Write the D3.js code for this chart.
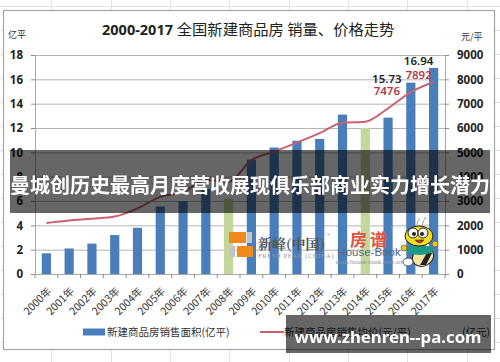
<!DOCTYPE html>
<html>

<head>
    <meta charset="utf-8">
    <title>2000-2017 全国新建商品房 销量、价格走势</title>
    <script src="https://d3js.org/d3.v7.min.js"></script>
    <style>
        html, body { margin: 0; padding: 0; background: #fff; overflow: hidden; }
        svg { display: block; filter: blur(0.35px); }
        text { font-family: "Noto Sans CJK SC", "Noto Sans", sans-serif; }
        .axis path { stroke: #a8a8a8; }
        .axis line { stroke: #8c8c8c; }
        .axis text { font-family: "Noto Sans", sans-serif; font-weight: 700; font-size: 11.5px; fill: #222; }
    </style>
</head>

<body>
    <div id="chart"></div>
    <script>
        // values
        var years = ["2000年", "2001年", "2002年", "2003年", "2004年", "2005年", "2006年", "2007年", "2008年",
            "2009年", "2010年", "2011年", "2012年", "2013年", "2014年", "2015年", "2016年", "2017年"];
        var area = [1.7, 2.1, 2.5, 3.2, 3.8, 5.55, 6.0, 7.0, 6.2, 9.4, 10.4, 10.95, 11.1, 13.1, 12.0, 12.85, 15.73, 16.94];
        var price = [2100, 2200, 2270, 2360, 2700, 3170, 3370, 3860, 3800, 4680, 5030, 5400, 5790, 6220, 6260, 6810, 7476, 7892];
        var paleYears = ["2008年", "2014年"];
        var leftTicks = [0, 2, 4, 6, 8, 10, 12, 14, 16, 18];
        var rightTicks = [0, 1000, 2000, 3000, 4000, 5000, 6000, 7000, 8000, 9000];
        var headline = "曼城创历史最高月度营收展现俱乐部商业实力增长潜力";
        var siteName = "www.zhenren--pa.com";

        var width = 500, height = 362;
        var margin = { top: 55, right: 55, bottom: 88, left: 35 };

        var svg = d3.select("#chart").append("svg")
            .attr("width", width)
            .attr("height", height);

        // faint spreadsheet cells behind the chart
        var sheet = svg.append("g").attr("stroke", "#e2e2e2");
        d3.range(6, 362, 24).forEach(function (y) {
            sheet.append("line").attr("x1", 0).attr("x2", width).attr("y1", y + 0.5).attr("y2", y + 0.5);
        });
        [51, 111, 170, 229, 289, 348, 407, 467].forEach(function (x) {
            sheet.append("line").attr("x1", x + 0.5).attr("x2", x + 0.5).attr("y1", 0).attr("y2", height);
        });

        svg.append("rect")
            .attr("x", 3.5).attr("y", 10.5)
            .attr("width", 491).attr("height", 339)
            .attr("fill", "#fff")
            .attr("stroke", "#a6a6a6")
            .attr("stroke-width", 1.2);

        var x = d3.scaleBand()
            .domain(years)
            .range([margin.left, width - margin.right]);
        var yArea = d3.scaleLinear()
            .domain([0, 18])
            .range([height - margin.bottom, margin.top]);
        var yPrice = d3.scaleLinear()
            .domain([0, 9000])
            .range([height - margin.bottom, margin.top]);

        // Grid lines
        svg.append("g").selectAll("line")
            .data(leftTicks.slice(1))
            .enter().append("line")
            .attr("x1", margin.left)
            .attr("x2", width - margin.right)
            .attr("y1", function (d) { return yArea(d) + 0.5; })
            .attr("y2", function (d) { return yArea(d) + 0.5; })
            .attr("stroke", "#b4b4b4");

        // Bars
        svg.append("g").selectAll("rect")
            .data(years)
            .enter().append("rect")
            .attr("x", function (d) { return x(d) + x.bandwidth() / 2 - 4.6; })
            .attr("width", 9.2)
            .attr("y", function (d, i) { return yArea(area[i]); })
            .attr("height", function (d, i) { return yArea(0) - yArea(area[i]); })
            .attr("fill", function (d) { return paleYears.indexOf(d) >= 0 ? "#c3d69b" : "#4a7ebb"; });

        // Axes
        svg.append("g").attr("class", "axis")
            .attr("transform", "translate(" + margin.left + ",0)")
            .call(d3.axisLeft(yArea).tickValues(leftTicks).tickSize(4).tickPadding(8));
        svg.append("g").attr("class", "axis")
            .attr("transform", "translate(" + (width - margin.right) + ",0)")
            .call(d3.axisRight(yPrice).tickValues(rightTicks).tickFormat(d3.format("d")).tickSize(4).tickPadding(8));

        var bottomAxis = svg.append("g").attr("class", "axis")
            .attr("transform", "translate(0," + yArea(0) + ")")
            .call(d3.axisBottom(x).tickSize(0));
        bottomAxis.selectAll("text")
            .attr("transform", "translate(1,13) rotate(-45)")
            .attr("dy", "0.35em")
            .style("text-anchor", "end")
            .style("font-weight", 400)
            .style("font-size", "10.5px")
            .style("font-family", "'Noto Sans CJK SC', sans-serif")
            .style("fill", "#333");
        // ticks sit between the categories
        bottomAxis.selectAll("line.edge")
            .data(years.concat(["end"]))
            .enter().append("line")
            .attr("class", "edge")
            .attr("x1", function (d, i) { return margin.left + i * x.step(); })
            .attr("x2", function (d, i) { return margin.left + i * x.step(); })
            .attr("y2", 4);

        // Price line
        var line = d3.line()
            .x(function (d, i) { return x(years[i]) + x.bandwidth() / 2; })
            .y(function (d) { return yPrice(d); })
            .curve(d3.curveMonotoneX);
        svg.append("path")
            .attr("d", line(price))
            .attr("fill", "none")
            .attr("stroke", "#c8626f")
            .attr("stroke-width", 2);

        // Value labels on the last two years
        function valueLabel(year, text, dx, yPos, colour) {
            svg.append("text")
                .attr("x", x(year) + x.bandwidth() / 2 + dx)
                .attr("y", yPos)
                .attr("text-anchor", "middle")
                .style("font-family", "'Noto Sans', sans-serif")
                .style("font-weight", 600)
                .style("font-size", "11.5px")
                .style("fill", colour)
                .text(text);
        }
        var n = years.length;
        valueLabel(years[n - 2], area[n - 2], -24, yArea(area[n - 2]), "#222");
        valueLabel(years[n - 2], price[n - 2], -24, yArea(area[n - 2]) + 12, "#b03a48");
        valueLabel(years[n - 1], area[n - 1], -15, yArea(area[n - 1]) - 3, "#222");
        valueLabel(years[n - 1], price[n - 1], -15, yArea(area[n - 1]) + 11, "#b03a48");

        // Title and units
        var title = svg.append("text")
            .attr("x", 102).attr("y", 35)
            .style("fill", "#222");
        title.append("tspan")
            .style("font-family", "'Noto Sans', sans-serif")
            .style("font-weight", 700)
            .style("font-size", "14.5px")
            .text("2000-2017 ");
        title.append("tspan")
            .style("font-size", "15.3px")
            .text("全国新建商品房 销量、价格走势");

        svg.append("text").attr("x", 8).attr("y", 38)
            .style("font-size", "9px").style("fill", "#333").text("亿平");
        svg.append("text").attr("x", 461).attr("y", 40)
            .style("font-size", "9px").style("fill", "#333").text("元/平");

        // Legend
        svg.append("rect").attr("x", 83).attr("y", 328.5).attr("width", 22).attr("height", 7).attr("fill", "#4a7ebb");
        svg.append("text").attr("x", 107).attr("y", 336)
            .style("font-size", "10.5px").style("fill", "#333").text("新建商品房销售面积(亿平)");
        svg.append("line").attr("x1", 260).attr("x2", 284).attr("y1", 332).attr("y2", 332)
            .attr("stroke", "#c8626f").attr("stroke-width", 2);
        svg.append("text").attr("x", 284).attr("y", 336)
            .style("font-size", "10.5px").style("fill", "#333").text("新建商品房销售均价(元/平)");
        svg.append("text").attr("x", 490).attr("y", 336).attr("text-anchor", "end")
            .style("font-size", "10.5px").style("fill", "#333").text("(亿元)");

        // Fresh Peak logo
        var logo = svg.append("g");
        logo.append("rect").attr("x", 229).attr("y", 232).attr("width", 17).attr("height", 11).attr("fill", "#f08a1d");
        logo.append("rect").attr("x", 247).attr("y", 232).attr("width", 5).attr("height", 11).attr("fill", "#c4c4c4");
        logo.append("rect").attr("x", 229).attr("y", 246).attr("width", 6).attr("height", 11).attr("fill", "#c4c4c4");
        logo.append("rect").attr("x", 237).attr("y", 246).attr("width", 16).attr("height", 11).attr("fill", "#f08a1d");
        logo.append("text").attr("x", 258).attr("y", 249)
            .style("font-family", "'Noto Serif CJK SC', 'Noto Sans CJK SC', serif")
            .style("font-size", "14px").style("font-weight", 700).style("fill", "#555").text("新峰(中国)");
        logo.append("text").attr("x", 258).attr("y", 258)
            .style("font-family", "'Liberation Serif', serif")
            .style("font-size", "6.5px").style("letter-spacing", "0.6px").style("fill", "#999").text("FRESH PEAK (CHINA)");
        logo.append("text").attr("x", 327).attr("y", 238)
            .style("font-size", "6px").style("fill", "#aaa").text("®");

        // House-Book logo
        logo.append("text").attr("x", 370).attr("y", 246).attr("text-anchor", "middle")
            .style("font-size", "17px").style("font-weight", 700).style("letter-spacing", "3px")
            .style("fill", "#e0533f").text("房谱");
        logo.append("text").attr("x", 369).attr("y", 255.5).attr("text-anchor", "middle")
            .style("font-family", "'Liberation Sans', sans-serif")
            .style("font-size", "11.5px").style("fill", "#566a80").text("House-Book");
        logo.append("text").attr("x", 369).attr("y", 264).attr("text-anchor", "middle")
            .style("font-family", "'Liberation Sans', sans-serif")
            .style("font-size", "6px").style("fill", "#8a93a0").text("www.house-book.com.cn");
        logo.append("text").attr("x", 391).attr("y", 231)
            .style("font-size", "6px").style("fill", "#aaa").text("®");

        // Bee mascot
        var bee = svg.append("g").attr("transform", "translate(420,244)");
        bee.append("ellipse").attr("cx", 3).attr("cy", 13).attr("rx", 11).attr("ry", 9)
            .attr("transform", "rotate(-25 3 13)")
            .attr("fill", "#f2e2a0").attr("stroke", "#222");
        bee.append("path").attr("d", "M0 21 L8 7 L12 9 L6 21 Z").attr("fill", "#222");
        bee.append("ellipse").attr("cx", 0).attr("cy", 6).attr("rx", 13).attr("ry", 5)
            .attr("fill", "#1d9a86");
        bee.append("circle").attr("cx", -16).attr("cy", 4).attr("r", 3).attr("fill", "#e6c62a").attr("stroke", "#333").attr("stroke-width", 0.5);
        bee.append("circle").attr("cx", 15).attr("cy", 0).attr("r", 3).attr("fill", "#e6c62a").attr("stroke", "#333").attr("stroke-width", 0.5);
        bee.append("ellipse").attr("cx", -12).attr("cy", 18).attr("rx", 5).attr("ry", 4).attr("fill", "#fff").attr("stroke", "#555");
        bee.append("ellipse").attr("cx", -1).attr("cy", -8).attr("rx", 14).attr("ry", 10)
            .attr("fill", "#f5e11f").attr("stroke", "#222");
        bee.append("circle").attr("cx", -7).attr("cy", -11).attr("r", 5).attr("fill", "#fff").attr("stroke", "#222");
        bee.append("circle").attr("cx", 3).attr("cy", -11).attr("r", 5).attr("fill", "#fff").attr("stroke", "#222");
        bee.append("circle").attr("cx", -6).attr("cy", -10).attr("r", 2).attr("fill", "#222");
        bee.append("circle").attr("cx", 2).attr("cy", -10).attr("r", 2).attr("fill", "#222");
        bee.append("path").attr("d", "M-5 -4 Q0 2 4 -4 Z").attr("fill", "#c0392b").attr("stroke", "#222").attr("stroke-width", 0.6);
        bee.append("path").attr("d", "M-3 -18 Q-3 -24 0 -25 M2 -18 Q3 -24 6 -27")
            .attr("fill", "none").attr("stroke", "#999");

        // Overlay bands on top of the chart
        svg.append("rect").attr("x", 10).attr("y", 150).attr("width", 480).attr("height", 63)
            .attr("fill", "#000").attr("fill-opacity", 0.6);
        svg.append("text")
            .attr("x", 250).attr("y", 193)
            .attr("text-anchor", "middle")
            .style("font-size", "20px")
            .style("font-weight", 700)
            .style("fill", "#fff")
            .text(headline);

        svg.append("rect").attr("x", 286).attr("y", 315).attr("width", 205).attr("height", 38)
            .attr("fill", "#000").attr("fill-opacity", 0.6);
        svg.append("text")
            .attr("x", 388).attr("y", 343)
            .attr("text-anchor", "middle")
            .style("font-family", "'Noto Sans', sans-serif")
            .style("font-size", "16.8px")
            .style("font-weight", 700)
            .style("fill", "#fff")
            .text(siteName);
    </script>
</body>

</html>
